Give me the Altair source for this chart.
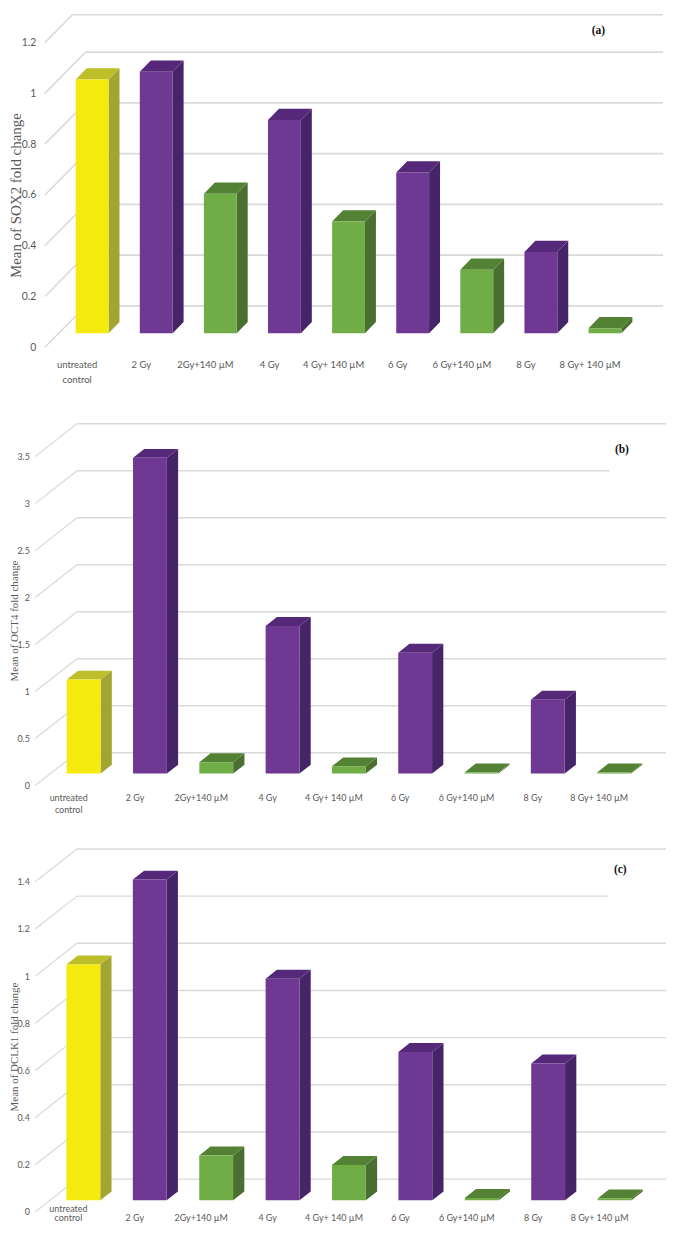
import altair as alt
import pandas as pd

# ---- data ----
categories = ["untreated control", "2 Gy", "2Gy+140 µM", "4 Gy", "4 Gy+ 140 µM",
              "6 Gy", "6 Gy+140 µM", "8 Gy", "8 Gy+ 140 µM"]
groups = ["control", "rad", "combo", "rad", "combo", "rad", "combo", "rad", "combo"]
sox2 = [1.00, 1.03, 0.55, 0.84, 0.44, 0.633, 0.25, 0.32, 0.02]
oct4 = [1.00, 3.36, 0.12, 1.57, 0.077, 1.285, 0.012, 0.787, 0.012]
dclk1 = [1.00, 1.36, 0.19, 0.94, 0.15, 0.629, 0.01, 0.58, 0.008]
ticks_a = [0, 0.2, 0.4, 0.6, 0.8, 1, 1.2]
ticks_b = [0, 0.5, 1, 1.5, 2, 2.5, 3, 3.5]
ticks_c = [0, 0.2, 0.4, 0.6, 0.8, 1, 1.2, 1.4]

FRONT = {"control": "#F5EA0E", "rad": "#6F3893", "combo": "#70AD47"}
SIDE = {"control": "#A3A532", "rad": "#462468", "combo": "#4B6F30"}
TOP = {"control": "#BEBE2B", "rad": "#56287A", "combo": "#548235"}
GRID = "#D9D9D9"
TEXT = "#595959"
PLOT_LEFT = 8
PLOT_W = 660

panels = [
    dict(values=sox2, ticks=ticks_a, tag="(a)", title="Mean of SOX2  fold change", title_size=15,
         top=13, bottom=410, zero=348, per=255, wall=(44, 41, 41.5), end=665, bar0=75, step=64.4,
         bw=33, depth=(11, 11.3), base=334, lab_right=35, tick_font="Lato", tick_size=10.5,
         cat_font="Lato", cat_size=9.5, cat_dx=1.5, cat_y=(365.7, 381), cat_single=365.7,
         title_x=20, title_y=195.7, tag_xy=(600, 30.7), gap=None, grid_w=1.7, lw=1.5),
    dict(values=oct4, ticks=ticks_b, tag="(b)", title="Mean of OCT4  fold change", title_size=11,
         top=410, bottom=830, zero=788.3, per=94.4, wall=(34.3, 42, 33), end=668, bar0=66, step=66.6,
         bw=34, depth=(11.3, 9), base=776.3, lab_right=28.5, tick_font="Lato", tick_size=9,
         cat_font="Lato", cat_size=9, cat_dx=2, cat_y=(800.7, 812.7), cat_single=800.7,
         title_x=16.7, title_y=623, tag_xy=(623.7, 451), gap=(3, 611, 668), grid_w=1.4, lw=1.2),
    dict(values=dclk1, ticks=ticks_c, tag="(c)", title="Mean of  DCLK1 fold change", title_size=11,
         top=830, bottom=1227, zero=1216.7, per=236.9, wall=(34.3, 42, 33), end=668, bar0=65.7, step=66.7,
         bw=34, depth=(11.3, 9), base=1205, lab_right=28.5, tick_font="Lato", tick_size=9,
         cat_font="Lato", cat_size=9, cat_dx=2, cat_y=(1213.5, 1222.5), cat_single=1222.5,
         title_x=16.7, title_y=1051, tag_xy=(622, 873), gap=(1.2, 610, 668), grid_w=1.4, lw=1.2),
]


def make_panel(p):
    u = lambda px: (px - p["bar0"]) / p["step"]
    du = lambda px: px / p["step"]
    v = lambda py: (p["zero"] - py) / p["per"]
    dv = lambda px: px / p["per"]
    xs = alt.Scale(domain=[u(PLOT_LEFT), u(PLOT_LEFT + PLOT_W)], nice=False, zero=False)
    ys = alt.Scale(domain=[v(p["bottom"]), v(p["top"])], nice=False, zero=False)
    wx, wdx, wdy = p["wall"]

    axis_offset = -(p["lab_right"] + 2 - PLOT_LEFT)
    y_axis = alt.Axis(
        values=p["ticks"], format="~g", grid=False, domain=False, ticks=False, labelPadding=2,
        offset=axis_offset, labelFont=p["tick_font"], labelFontSize=p["tick_size"], labelColor=TEXT,
        title=None,
    )
    X = lambda f: alt.X(f, type="quantitative", scale=xs, axis=None)
    Y = lambda f: alt.Y(f, type="quantitative", scale=ys, axis=y_axis)

    # grid: back-wall lines and left-wall diagonals, stopped at the top of the page
    ceiling = v(p["top"] + 1)
    back_rows, diag = [], []
    for t in p["ticks"]:
        k_end = min(1, (ceiling - t) / dv(wdy))
        end_x, end_y = u(wx) + k_end * du(wdx), t + k_end * dv(wdy)
        back_rows.append({"x": end_x, "x2": u(p["end"]), "y": end_y})
        diag.append({"t": t, "x": u(wx), "y": t})
        diag.append({"t": t, "x": end_x, "y": end_y})
    layers = [
        alt.Chart(pd.DataFrame(back_rows)).mark_rule(color=GRID, strokeWidth=p["grid_w"]).encode(
            x=X("x"), x2="x2", y=Y("y")),
        alt.Chart(pd.DataFrame(diag)).mark_line(color=GRID, strokeWidth=p["lw"]).encode(
            x=X("x"), y=Y("y"), detail="t:N"),
    ]
    if p["gap"]:
        g, g0, g1 = p["gap"]
        patch = pd.DataFrame({"x": [u(g0)], "x2": [u(g1)], "y": [g + dv(wdy)]})
        layers.append(alt.Chart(patch).mark_rule(color="white", strokeWidth=5).encode(
            x=X("x"), x2="x2", y=Y("y")))

    # bars: front, side and top faces
    base_v = v(p["base"])
    bw, ddx, ddy = du(p["bw"]), du(p["depth"][0]), dv(p["depth"][1])
    front, side, top = [], [], []
    for i, (val, g) in enumerate(zip(p["values"], groups)):
        t = base_v + val
        front.append(dict(x=i, x2=i + bw, y=base_v, y2=t, c=FRONT[g]))
        for k in (0, 1):
            side.append(dict(b=i, x=i + bw + k * ddx, y=base_v + k * ddy, y2=t + k * ddy, c=SIDE[g]))
            top.append(dict(b=i, y=t + k * ddy, x=i + k * ddx, x2=i + bw + k * ddx, c=TOP[g]))
    color = alt.Color("c:N", scale=None, legend=None)
    layers += [
        alt.Chart(pd.DataFrame(side)).mark_area(orient="vertical", interpolate="linear").encode(
            x=X("x"), y=Y("y"), y2="y2", color=color, detail="b:N"),
        alt.Chart(pd.DataFrame(top)).mark_area(orient="horizontal", interpolate="linear").encode(
            y=Y("y"), x=X("x"), x2="x2", color=color, detail="b:N"),
        alt.Chart(pd.DataFrame(front)).mark_rect().encode(
            x=X("x"), x2="x2", y=Y("y"), y2="y2", color=color),
    ]

    # category labels (one row per text line)
    rows = []
    for i, c in enumerate(categories):
        if c.startswith("untreated"):
            for n, part in enumerate(c.split(" ")):
                rows.append(dict(x=i + du(p["cat_dx"]), y=v(p["cat_y"][n]), text=part))
        else:
            rows.append(dict(x=i + du(p["cat_dx"]), y=v(p["cat_single"]), text=c))
    layers.append(alt.Chart(pd.DataFrame(rows)).mark_text(
        font=p["cat_font"], fontSize=p["cat_size"], color=TEXT, align="center", baseline="middle"
    ).encode(x=X("x"), y=Y("y"), text="text:N"))

    # y title, drawn as rotated text
    ttl = pd.DataFrame({"x": [u(p["title_x"])], "y": [v(p["title_y"])], "text": [p["title"]]})
    layers.append(alt.Chart(ttl).mark_text(
        font="Liberation Serif", fontSize=p["title_size"], color=TEXT, angle=270,
        align="center", baseline="alphabetic"
    ).encode(x=X("x"), y=Y("y"), text="text:N"))

    # panel tag
    tag = pd.DataFrame({"x": [u(p["tag_xy"][0])], "y": [v(p["tag_xy"][1])], "text": [p["tag"]]})
    layers.append(alt.Chart(tag).mark_text(
        font="Liberation Serif", fontSize=11.5, fontWeight="bold", color="#111111",
        align="center", baseline="middle"
    ).encode(x=X("x"), y=Y("y"), text="text:N"))

    return alt.layer(*layers).properties(width=PLOT_W, height=p["bottom"] - p["top"])


chart = alt.vconcat(*[make_panel(p) for p in panels], spacing=0).resolve_scale(
    x="independent", y="independent"
).properties(padding=0).configure_view(stroke=None)

chart.save("out.html", embed_options={"renderer": "svg", "actions": False})
